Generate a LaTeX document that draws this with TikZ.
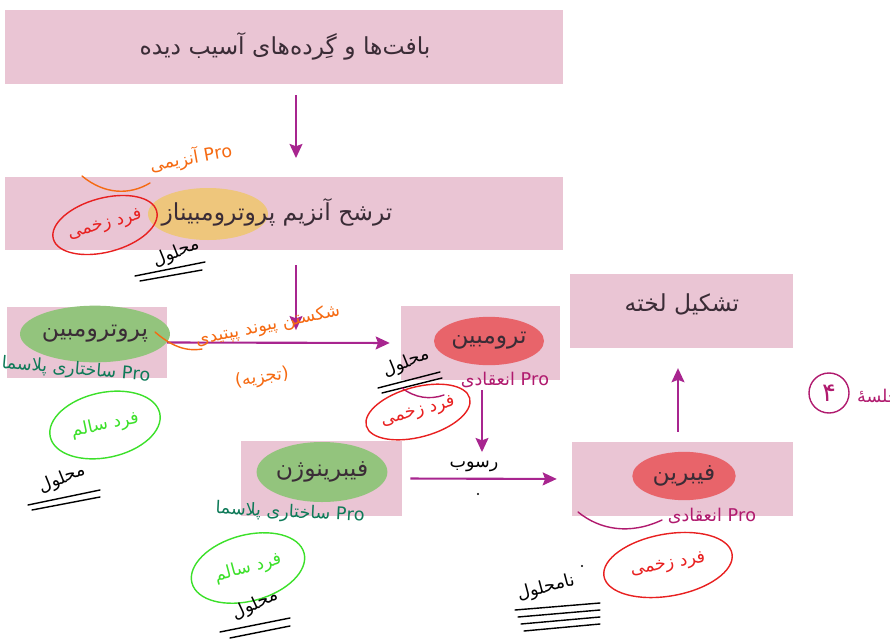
\documentclass[tikz,border=0pt]{standalone}
\usepackage{fontspec}
\newfontfamily\fa[Script=Arabic]{DejaVu Sans}
\TeXXeTstate=1
\usepackage{xcolor}
\definecolor{pink200}{HTML}{EAC5D4}
\definecolor{plum600}{HTML}{A8258F}
\definecolor{ink900}{HTML}{3A2C36}
\definecolor{leaf300}{HTML}{93C47D}
\definecolor{coral400}{HTML}{E8646A}
\definecolor{amber300}{HTML}{EEC67C}
\definecolor{penOrange}{HTML}{F56A12}
\definecolor{penRed}{HTML}{E82020}
\definecolor{penGreen}{HTML}{3CE02A}
\definecolor{penTeal}{HTML}{0E7A58}
\definecolor{penPlum}{HTML}{B01A6E}
\usepackage{tikz}
\usetikzlibrary{shapes.geometric, arrows.meta, positioning, calc, fit}
\newcommand{\fatext}[1]{\beginR #1\endR}

\begin{document}
\begin{tikzpicture}[
    x=0.03cm, y=-0.03cm,
    font=\fa\fontsize{20}{24}\selectfont, text=ink900,
    stage/.style={fill=pink200, inner sep=0pt},
    blob/.style={ellipse, inner sep=0pt},
    flow/.style={-{Stealth[length=12pt, width=11pt, inset=2pt]}, line width=1.8pt, draw=plum600},
    pen/.style={font=\fa\fontsize{15}{18}\selectfont},
    ring/.style={draw, ellipse, line width=1.2pt, inner sep=0pt, font=\fa\fontsize{15}{18}\selectfont},
    scrawl/.style={line width=1.2pt, line cap=round}
]
\useasboundingbox (0,0) rectangle (890,641);

% ── Stages ──
\node[stage, fit={(5,10) (563,84)}] (tissue) {};
\node (tissueText) at (285,46) {\fatext{بافت‌ها و گِرده‌های آسیب دیده}};

\node[stage, fit={(5,177) (563,250)}] (enzyme) {};
\fill[amber300] (208,214) ellipse [x radius=60, y radius=26];
\node (enzymeText) at (277,212) {\fatext{ترشح آنزیم پروترومبیناز}};

\node[stage, fit={(7,307) (167,378)}] (prothrombin) {};
\node[blob, fill=leaf300, minimum width=3.6cm, minimum height=1.7cm] (prothrombinTag) at (95,334) {\fatext{پروترومبین}};

\node[stage, fit={(401,306) (560,380)}] (thrombin) {};
\node[blob, fill=coral400, minimum width=3.3cm, minimum height=1.45cm] (thrombinTag) at (489,341) {\fatext{ترومبین}};

\node[stage, fit={(241,441) (402,516)}] (fibrinogen) {};
\node[blob, fill=leaf300, minimum width=3.5cm, minimum height=1.8cm] (fibrinogenTag) at (322,472) {\fatext{فیبرینوژن}};

\node[stage, fit={(572,442) (793,516)}] (fibrin) {};
\node[blob, fill=coral400, minimum width=3.1cm, minimum height=1.45cm] (fibrinTag) at (684,476) {\fatext{فیبرین}};

\node[stage, fit={(570,274) (793,348)}] (clot) {};
\node (clotText) at (682,304) {\fatext{تشکیل لخته}};

% ── Cascade ──
\coordinate (drop) at (296,343);
\coordinate (meet) at (482,479);
\draw[flow, shorten <=9.4pt, shorten >=16pt] (tissue.south -| drop) -- (enzyme.north -| drop);
\draw[flow, shorten <=13pt, shorten >=11pt] (enzyme.south -| drop) -- (drop);
\draw[flow, shorten >=9.4pt] (prothrombin.east) -- (thrombin.west);
\draw[flow, shorten <=8.5pt, shorten >=23pt] (thrombin.south -| meet) -- (meet);
\draw[flow, shorten <=7pt, shorten >=12.8pt] (fibrinogen.east) -- (fibrin.west);
\draw[flow, shorten <=8.5pt, shorten >=17pt] (fibrin.north -| 678,0) -- (clot.south -| 678,0);

% ── Pen notes ──
\node[pen, text=penOrange, rotate=10] (noteEnzyme) at (191,158) {{\fatext{آنزیمی}} Pro};
\draw[scrawl, penOrange] (82,176) .. controls (105,195) and (130,195) .. (150,183);
\node[ring, draw=penRed, text=penRed, minimum width=2.64cm, minimum height=1.62cm, rotate=15] (woundA) at (105,225) {\fatext{فرد زخمی}};
\node[pen, text=black, rotate=22] (solA) at (176,253) {\fatext{محلول}};
\draw[scrawl] (135,276) -- (205,262);
\draw[scrawl] (140,281) -- (202,270);

\node[pen, text=penTeal, rotate=-5] (plasmaA) at (76,370) {{\fatext{ساختاری پلاسما}} Pro};
\node[ring, draw=penGreen, text=penGreen, minimum width=3.36cm, minimum height=1.95cm, rotate=12] (healthyA) at (105,425) {\fatext{فرد سالم}};
\node[pen, text=black, rotate=22] (solB) at (62,479) {\fatext{محلول}};
\draw[scrawl] (28,505) -- (100,490);
\draw[scrawl] (32,510) -- (100,497);

\node[pen, text=penOrange, rotate=12] (cleave) at (268,326) {\fatext{شکستن پیوند پپتیدی}};
\node[pen, text=penOrange, rotate=8] (breakdown) at (262,378) {(تجزیه)};
\draw[scrawl, penOrange] (155,332) .. controls (170,345) and (185,352) .. (202,349);

\node[pen, text=black, rotate=22] (solC) at (406,363) {\fatext{محلول}};
\draw[scrawl] (378,388) -- (440,372);
\draw[scrawl] (382,393) -- (442,378);
\node[pen, text=penPlum] (clotA) at (505,380) {{\fatext{انعقادی}} Pro};
\draw[scrawl, penPlum] (402,388) .. controls (415,398) and (430,400) .. (444,395);
\node[ring, draw=penRed, text=penRed, minimum width=2.28cm, minimum height=1.5cm, rotate=15] (woundB) at (418,412) {\fatext{فرد زخمی}};

\node[pen, text=black] (settle) at (474,466) {\fatext{رسوب}};
\fill (478,494) circle [radius=1.2];

\node[pen, text=penTeal, rotate=-3] (plasmaB) at (290,513) {{\fatext{ساختاری پلاسما}} Pro};
\node[ring, draw=penGreen, text=penGreen, minimum width=3.48cm, minimum height=1.98cm, rotate=15] (healthyB) at (248,568) {\fatext{فرد سالم}};
\node[pen, text=black, rotate=25] (solD) at (255,605) {\fatext{محلول}};
\draw[scrawl] (220,632) -- (290,618);
\draw[scrawl] (230,638) -- (290,626);

\node[pen, text=penPlum] (clotB) at (712,516) {{\fatext{انعقادی}} Pro};
\draw[scrawl, penPlum] (578,512) .. controls (600,530) and (630,535) .. (662,520);
\node[ring, draw=penRed, text=penRed, minimum width=3.9cm, minimum height=1.86cm, rotate=10] (woundC) at (668,565) {\fatext{فرد زخمی}};
\node[pen, text=black, rotate=15] (insol) at (546,588) {\fatext{نامحلول}};
\foreach \k in {0,...,3}
  \draw[scrawl] (515+\k*3,610+\k*7) -- (600,603+\k*7);
\fill (582,566) circle [radius=1.2];

\node[circle, draw=penPlum, text=penPlum, line width=1.2pt, minimum size=1.2cm, inner sep=0pt, font=\fa\fontsize{22}{24}\selectfont] (lesson) at (829,393) {۴};
\node[pen, text=penPlum] (lessonText) at (878,397) {\fatext{جلسهٔ}};

\end{tikzpicture}
\end{document}
